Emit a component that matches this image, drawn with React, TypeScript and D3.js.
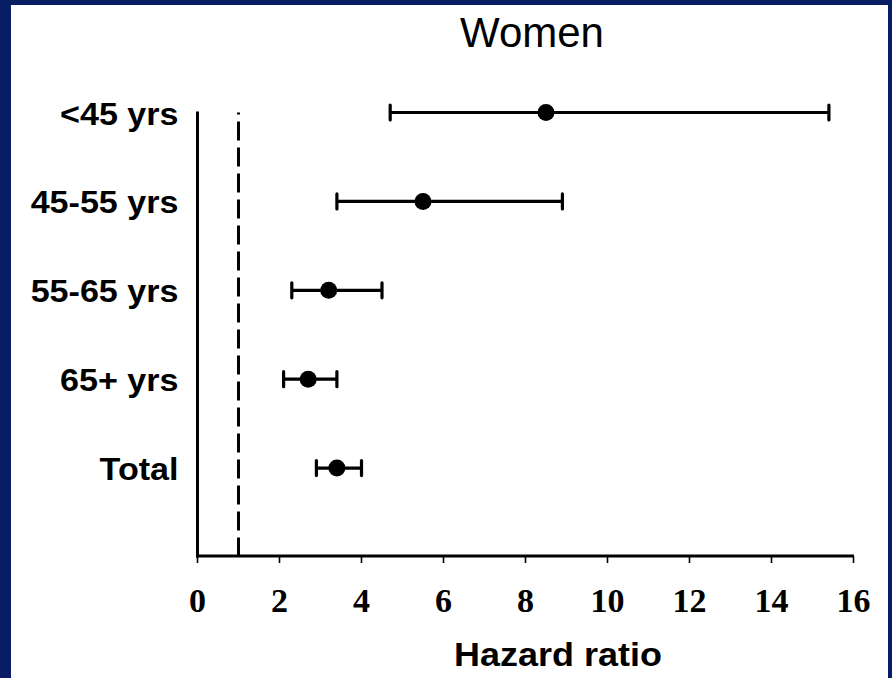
import React from "react";
import * as d3 from "d3";

const categories = ["<45 yrs", "45-55 yrs", "55-65 yrs", "65+ yrs", "Total"];
const estimates = [8.5, 5.5, 3.2, 2.7, 3.4];
const lowerCI = [4.7, 3.4, 2.3, 2.1, 2.9];
const upperCI = [15.4, 8.9, 4.5, 3.4, 4.0];
const xTicks = [0, 2, 4, 6, 8, 10, 12, 14, 16];
const referenceValue = 1;

const W = 892;
const H = 678;

export default function App() {
  const x = d3.scaleLinear().domain([0, 16]).range([197.5, 853.5]);
  const y = d3.scaleLinear().domain([0, 5]).range([112.5, 557]);
  const baseY = y(5) - 1;
  const navy = "#071e65";
  const sans = "'Liberation Sans', Arial, sans-serif";
  const serif = "'Liberation Serif', 'Times New Roman', serif";

  return (
    <svg
      width={W}
      height={H}
      style={{ position: "fixed", left: 0, top: 0, display: "block" }}
    >
      <rect x={0} y={0} width={W} height={H} fill={navy} />
      <rect x={11} y={5} width={877} height={H - 5} fill="#ffffff" />

      {/* title */}
      <text
        x={532}
        y={47}
        textAnchor="middle"
        fontFamily={sans}
        fontSize={42}
        fill="#000"
      >
        Women
      </text>

      {/* reference dashed line */}
      <line
        x1={x(referenceValue)}
        x2={x(referenceValue)}
        y1={y(0)}
        y2={baseY}
        stroke="#000"
        strokeWidth={3}
        strokeDasharray="19 7"
        strokeDashoffset={17}
      />

      {/* y axis */}
      <line x1={x(0)} x2={x(0)} y1={y(0) - 1} y2={baseY + 1.5} stroke="#000" strokeWidth={3} />
      {/* x axis */}
      <line x1={x(0) - 1.5} x2={x(16) + 0.5} y1={baseY} y2={baseY} stroke="#000" strokeWidth={3} />
      {xTicks.map((t) => (
        <g key={t}>
          <line x1={x(t)} x2={x(t)} y1={baseY} y2={baseY + 7} stroke="#000" strokeWidth={1.6} />
          <text
            x={x(t)}
            y={611.5}
            textAnchor="middle"
            fontFamily={serif}
            fontWeight="bold"
            fontSize={34}
            fill="#000"
          >
            {t}
          </text>
        </g>
      ))}

      {/* category labels */}
      {categories.map((c, i) => (
        <text
          key={c}
          transform={`translate(178.5, ${y(i) + 12}) scale(1.1, 1)`}
          textAnchor="end"
          fontFamily={sans}
          fontWeight="bold"
          fontSize={31}
          fill="#000"
        >
          {c}
        </text>
      ))}

      {/* error bars */}
      {categories.map((c, i) => {
        const cy = y(i);
        return (
          <g key={c}>
            <line x1={x(lowerCI[i])} x2={x(upperCI[i])} y1={cy} y2={cy} stroke="#000" strokeWidth={3.2} />
            <line x1={x(lowerCI[i])} x2={x(lowerCI[i])} y1={cy - 7.5} y2={cy + 7.5} stroke="#000" strokeWidth={3.2} strokeLinecap="round" />
            <line x1={x(upperCI[i])} x2={x(upperCI[i])} y1={cy - 7.5} y2={cy + 7.5} stroke="#000" strokeWidth={3.2} strokeLinecap="round" />
            <circle cx={x(estimates[i])} cy={cy} r={8.5} fill="#000" />
          </g>
        );
      })}

      {/* x axis title */}
      <text
        transform={`translate(558, 666) scale(1.09, 1)`}
        textAnchor="middle"
        fontFamily={sans}
        fontWeight="bold"
        fontSize={33}
        fill="#000"
      >
        Hazard ratio
      </text>
    </svg>
  );
}
